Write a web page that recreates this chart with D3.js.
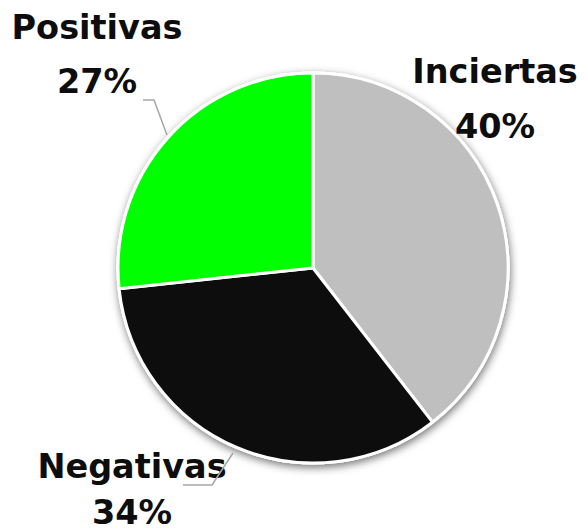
<!DOCTYPE html>
<html lang="en">
<head>
    <meta charset="UTF-8">
    <title>Pie</title>
    <script src="https://d3js.org/d3.v7.min.js"></script>
    <style>
        body { margin: 0; background: #fff; }
        svg text { font-family: "Century Gothic", "DejaVu Sans", sans-serif; font-weight: 700; fill: #0d0d0d; }
    </style>
</head>
<body>
    <svg id="vis"></svg>
    <script>
        const width = 588, height = 531;
        const categories = ["Inciertas", "Negativas", "Positivas"];
        const values = [39.5, 33.8, 26.7];
        const colors = ["#bfbfbf", "#0d0d0d", "#00ff00"];

        const svg = d3.select("#vis").attr("width", width).attr("height", height);

        const defs = svg.append("defs");
        const f = defs.append("filter").attr("id", "shadow")
            .attr("x", "-20%").attr("y", "-20%").attr("width", "140%").attr("height", "140%");
        f.append("feDropShadow").attr("dx", 1).attr("dy", 3).attr("stdDeviation", 4)
            .attr("flood-color", "#000").attr("flood-opacity", 0.55);

        const cx = 313, cy = 268, r = 195;
        const total = d3.sum(values);
        const pie = d3.pie().sort(null).value(d => d.v);
        const arcs = pie(categories.map((c, i) => ({ c, v: values[i], col: colors[i] })));
        const arc = d3.arc().innerRadius(0).outerRadius(r);

        const g = svg.append("g").attr("transform", `translate(${cx},${cy})`);
        g.append("circle").attr("r", r + 1.5).attr("fill", "#fff").attr("filter", "url(#shadow)");
        g.selectAll("path.slice")
            .data(arcs)
            .join("path")
            .attr("class", "slice")
            .attr("d", arc)
            .attr("fill", d => d.data.col)
            .attr("stroke", "#fff")
            .attr("stroke-width", 3)
            .attr("stroke-linejoin", "round");

        // labels: [name x, name baseline, pct baseline]
        const labelPos = {
            "Inciertas": [495, 83, 138],
            "Negativas": [132, 478, 524],
            "Positivas": [97, 39, 93]
        };
        const fs = 33.5;
        arcs.forEach(d => {
            const p = labelPos[d.data.c];
            svg.append("text").attr("x", p[0]).attr("y", p[1])
                .attr("text-anchor", "middle").attr("font-size", fs).text(d.data.c);
            svg.append("text").attr("x", p[0]).attr("y", p[2])
                .attr("text-anchor", "middle").attr("font-size", fs)
                .text(Math.round(d.data.v / total * 100) + "%");
        });

        // leader lines
        const leaders = [
            [[143, 100], [154, 100], [167, 135]],
            [[183, 485], [212, 485], [233, 453]]
        ];
        svg.selectAll("path.leader")
            .data(leaders)
            .join("path")
            .attr("class", "leader")
            .attr("d", d3.line())
            .attr("fill", "none")
            .attr("stroke", "#a6a6a6")
            .attr("stroke-width", 1.5);
    </script>
</body>
</html>
